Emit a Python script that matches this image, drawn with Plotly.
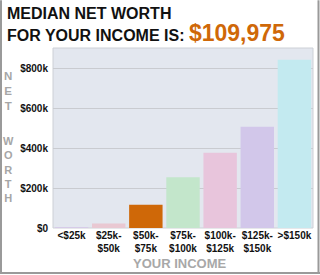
import plotly.graph_objects as go

categories = ["<$25k", "$25k-<br>$50k", "$50k-<br>$75k", "$75k-<br>$100k",
              "$100k-<br>$125k", "$125k-<br>$150k", ">$150k"]
net_worth = [3000, 22000, 116000, 254000, 377000, 507000, 842000]
bar_colors = ["#d6cbe8", "#e9c8d2", "#cf6808", "#c3e6cb",
              "#e8c5dc", "#d2c7ea", "#c3eaf0"]
tick_vals = [0, 200000, 400000, 600000, 800000]
tick_text = ["$0", "$200k", "$400k", "$600k", "$800k"]
headline_1 = "MEDIAN NET WORTH"
headline_2 = "FOR YOUR INCOME IS:"
headline_value = "$109,975"
y_title_words = ["NET", "WORTH"]
x_title = "YOUR INCOME"

W, H = 320, 275
L, R, T, B = 53, 7, 48, 46.5
PW, PH = W - L - R, H - T - B


def px(x):
    return (x - L) / PW


def py(y):
    return (H - B - y) / PH


FONT = "Liberation Sans"

fig = go.Figure(go.Bar(
    x=categories, y=net_worth, marker=dict(color=bar_colors, line=dict(width=0)),
    hoverinfo="skip",
))

annotations = [
    dict(text=headline_1, x=px(5), y=py(13), xanchor="left", yanchor="middle",
         font=dict(family=FONT, size=16, color="#111111", weight="bold")),
    dict(text=headline_2 + " <span style='color:#cf6808;font-size:23px'>" + headline_value + "</span>",
         x=px(5), y=py(33), xanchor="left", yanchor="middle",
         font=dict(family=FONT, size=16, color="#111111", weight="bold")),
    dict(text=x_title, x=px(180), y=py(264), xanchor="center", yanchor="middle",
         font=dict(family=FONT, size=13, color="#a8a8a8", weight="bold")),
]
word_centres = [91, 170]
word_sizes = [11.5, 11]
for word, cy, fs in zip(y_title_words, word_centres, word_sizes):
    annotations.append(dict(text="<br>".join(word), x=px(8), y=py(cy),
                            xanchor="center", yanchor="middle",
                            font=dict(family=FONT, size=fs, color="#a6a6a6", weight="bold")))
for a in annotations:
    a.update(xref="paper", yref="paper", showarrow=False)

frame = "#9a9a9a"
shapes = [
    dict(type="line", xref="paper", yref="paper", x0=px(1), x1=px(1), y0=py(0), y1=py(274),
         line=dict(color=frame, width=2)),
    dict(type="line", xref="paper", yref="paper", x0=px(318.5), x1=px(318.5), y0=py(0), y1=py(274),
         line=dict(color=frame, width=2)),
    dict(type="line", xref="paper", yref="paper", x0=px(0), x1=px(320), y0=py(273.5), y1=py(273.5),
         line=dict(color=frame, width=2)),
    dict(type="rect", xref="paper", yref="paper", x0=0, x1=1, y0=0, y1=1,
         line=dict(color="#cdd0d6", width=1), layer="below"),
]

fig.update_layout(
    width=W, height=H, margin=dict(l=L, r=R, t=T, b=B, pad=0),
    paper_bgcolor="white", plot_bgcolor="#e3e7ef",
    bargap=0.1, showlegend=False,
    annotations=annotations, shapes=shapes,
    font=dict(family=FONT, color="#111111"),
)
fig.update_xaxes(
    tickfont=dict(family=FONT, size=10, color="#111111", weight="bold"),
    showgrid=False, zeroline=False, showline=False, ticks="", fixedrange=True,
)
fig.update_yaxes(
    range=[0, 901000], tickvals=tick_vals, ticktext=tick_text,
    tickfont=dict(family=FONT, size=10, color="#111111", weight="bold"),
    showgrid=True, gridcolor="#c9cbd0", gridwidth=1, zeroline=False,
    ticks="outside", ticklen=2, tickcolor="rgba(0,0,0,0)", fixedrange=True,
)

fig.write_html("out.html", config=dict(displayModeBar=False))
